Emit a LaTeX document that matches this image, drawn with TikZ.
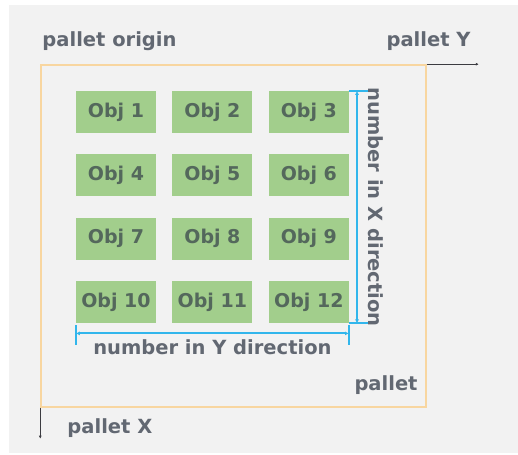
\documentclass[tikz,border=0pt]{standalone}
\usepackage{fontspec}
\setmainfont{DejaVu Sans}
\usetikzlibrary{positioning,arrows.meta,calc}
\definecolor{bggray}{RGB}{242,242,242}
\definecolor{objgreen}{RGB}{162,206,140}
\definecolor{objtext}{RGB}{84,104,92}
\definecolor{lbltext}{RGB}{98,104,114}
\definecolor{palletorange}{RGB}{248,214,160}
\definecolor{dimblue}{RGB}{50,182,236}
\definecolor{axgray}{RGB}{60,60,65}

\begin{document}
\begin{tikzpicture}[x=1pt, y=1pt, node distance=21pt and 16pt, obj/.style={fill=objgreen, text=objtext, minimum width=80pt, minimum height=42pt, inner sep=0pt, font=\bfseries\fontsize{19}{19}\selectfont}, lbl/.style={text=lbltext, inner sep=0pt, font=\bfseries\fontsize{19.5}{20}\selectfont}, dim/.style={draw=dimblue, line width=2pt}, tip/.style={{Latex[length=4pt,width=4pt]}-{Latex[length=4pt,width=4pt]}}, ax/.style={draw=axgray, line width=.8pt, -{Latex[length=3pt,width=3pt]}}]
		\useasboundingbox (0,0) rectangle (518,454);
		\fill[bggray] (9,1) rectangle (518,449);

		\node[draw=palletorange, line width=1.5pt, minimum width=385pt, minimum height=342pt, inner sep=0pt] (P) at (233.5,218) {};

		\node[obj] (o1) at (116,342) {Obj 1};
		\node[obj, right=of o1] (o2) {Obj 2};
		\node[obj, right=of o2] (o3) {Obj 3};
		\node[obj, below=of o1] (o4) {Obj 4};
		\node[obj, right=of o4] (o5) {Obj 5};
		\node[obj, right=of o5] (o6) {Obj 6};
		\node[obj, below=of o4] (o7) {Obj 7};
		\node[obj, right=of o7] (o8) {Obj 8};
		\node[obj, right=of o8] (o9) {Obj 9};
		\node[obj, below=of o7] (o10) {Obj 10};
		\node[obj, right=of o10] (o11) {Obj 11};
		\node[obj, right=of o11] (o12) {Obj 12};

		\node[lbl, anchor=base west] (orig) at ([shift={(2pt,18pt)}]P.north west) {pallet origin};
		\node[lbl, anchor=base east] (palY) at ([shift={(44pt,18pt)}]P.north east) {pallet Y};
		\node[lbl, anchor=base east] (pal) at ([shift={(-9pt,17pt)}]P.south east) {pallet};
		\node[lbl, anchor=base west] (palX) at ([shift={(27pt,-26pt)}]P.south west) {pallet X};

		\coordinate (Yend) at ([xshift=52pt]P.north east);
		\coordinate (Xend) at ([yshift=-31pt]P.south west);
		\draw[ax] (P.north east) -- (Yend);
		\draw[ax] (P.south west) -- (Xend);

		\coordinate (xt) at ([xshift=8pt]o3.north east);
		\coordinate (xb) at ([xshift=8pt]o12.south east);
		\draw[dim, tip] (xt) -- (xb);
		\draw[dim] ([xshift=-8pt]xt) -- ([xshift=14pt]xt);
		\draw[dim] ([xshift=-8pt]xb) -- ([xshift=14pt]xb);
		\node[lbl, rotate=-90, anchor=base] (nx) at ([xshift=11pt]$(xt)!.5!(xb)$) {number in X direction};

		\coordinate (yl) at ([yshift=-10pt]o10.south west);
		\coordinate (yr) at ([yshift=-10pt]o12.south east);
		\draw[dim, tip] (yl) -- (yr);
		\draw[dim] ([yshift=8pt]yl) -- ([yshift=-12pt]yl);
		\draw[dim] ([yshift=8pt]yr) -- ([yshift=-12pt]yr);
		\node[lbl, anchor=base] (ny) at ([yshift=-21pt]$(yl)!.5!(yr)$) {number in Y direction};
	\end{tikzpicture}
\end{document}
